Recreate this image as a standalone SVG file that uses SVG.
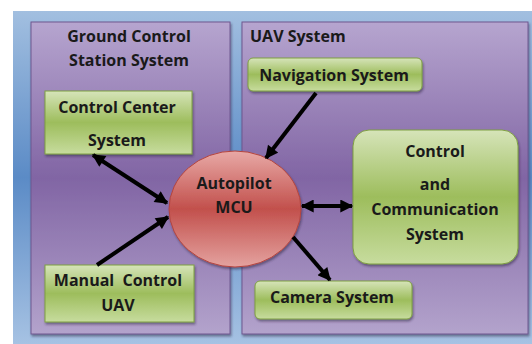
<svg xmlns="http://www.w3.org/2000/svg" width="532" height="344" viewBox="0 0 532 344">
  <defs>
    <linearGradient id="gBlue" x1="0" y1="0" x2="0" y2="1">
      <stop offset="0" stop-color="#a2bfe0"/>
      <stop offset="0.5" stop-color="#5b8bc6"/>
      <stop offset="1" stop-color="#a6c2e3"/>
    </linearGradient>
    <linearGradient id="gPurple" x1="0" y1="0" x2="0" y2="1">
      <stop offset="0" stop-color="#b6a5cf"/>
      <stop offset="0.5" stop-color="#8165a4"/>
      <stop offset="1" stop-color="#b3a3cc"/>
    </linearGradient>
    <linearGradient id="gGreen" x1="0" y1="0" x2="0" y2="1">
      <stop offset="0" stop-color="#d6e4b9"/>
      <stop offset="0.5" stop-color="#9dbd5c"/>
      <stop offset="1" stop-color="#c7dc9e"/>
    </linearGradient>
    <linearGradient id="gRed" x1="0" y1="0" x2="0" y2="1">
      <stop offset="0" stop-color="#e8a9a6"/>
      <stop offset="0.5" stop-color="#c2504c"/>
      <stop offset="1" stop-color="#e4a29f"/>
    </linearGradient>
    <marker id="arrow" viewBox="0 0 10 10" refX="9" refY="5" markerWidth="15" markerHeight="13" markerUnits="userSpaceOnUse" orient="auto-start-reverse">
      <path d="M0,0 L10,5 L0,10 z" fill="#000"/>
    </marker>
    <filter id="shadow" x="-10%" y="-10%" width="125%" height="130%">
      <feDropShadow dx="1" dy="2" stdDeviation="1" flood-color="#2a1e3a" flood-opacity="0.5"/>
    </filter>
  </defs>
  <style>
    .panel { fill: url(#gPurple); stroke: #6f5890; stroke-width: 1; filter: url(#shadow); }
    .box { fill: url(#gGreen); stroke: #7f9f42; stroke-width: 1; filter: url(#shadow); }
    .hub { fill: url(#gRed); stroke: #b3443f; stroke-width: 1; filter: url(#shadow); }
    .lbl { font-family: "Open Sans", "Liberation Sans", sans-serif; font-weight: bold; font-size: 16px; fill: #1a1a1a; text-anchor: middle; }
    .wire { stroke: #000; stroke-width: 4; fill: none; }
  </style>

  <!-- background -->
  <rect x="13" y="11" width="519" height="333" fill="url(#gBlue)"/>

  <!-- ground control station panel -->
  <g id="ground-station">
    <rect class="panel" x="31" y="22" width="199" height="312"/>
    <text class="lbl" x="129" y="42">Ground Control</text>
    <text class="lbl" x="129" y="66">Station System</text>
  </g>

  <!-- UAV panel -->
  <g id="uav-system">
    <rect class="panel" x="242" y="22" width="286" height="312"/>
    <text class="lbl" x="250" y="42" style="text-anchor:start">UAV System</text>
  </g>

  <g id="control-center">
    <rect class="box" x="45" y="91" width="147" height="63"/>
    <text class="lbl" x="117" y="113">Control Center</text>
    <text class="lbl" x="117" y="146">System</text>
  </g>

  <g id="manual-control">
    <rect class="box" x="45" y="265" width="149" height="57"/>
    <text class="lbl" x="118" y="286" xml:space="preserve">Manual  Control</text>
    <text class="lbl" x="118" y="311">UAV</text>
  </g>

  <g id="navigation">
    <rect class="box" x="248" y="58" width="174" height="33" rx="5"/>
    <text class="lbl" x="334" y="81">Navigation System</text>
  </g>

  <g id="comm-system">
    <rect class="box" x="353" y="130" width="165" height="134" rx="16"/>
    <text class="lbl" x="435" y="157">Control</text>
    <text class="lbl" x="435" y="190">and</text>
    <text class="lbl" x="435" y="215">Communication</text>
    <text class="lbl" x="435" y="240">System</text>
  </g>

  <g id="camera">
    <rect class="box" x="255" y="281" width="157" height="38" rx="5"/>
    <text class="lbl" x="332" y="303">Camera System</text>
  </g>

  <g id="autopilot">
    <ellipse class="hub" cx="235" cy="209" rx="66" ry="58"/>
    <text class="lbl" x="234" y="189">Autopilot</text>
    <text class="lbl" x="234" y="213">MCU</text>
  </g>

  <!-- connectors -->
  <g id="connectors">
    <line class="wire" x1="93" y1="155" x2="167" y2="203" marker-start="url(#arrow)" marker-end="url(#arrow)"/>
    <line class="wire" x1="97" y1="265" x2="168" y2="217" marker-end="url(#arrow)"/>
    <line class="wire" x1="316" y1="93" x2="266" y2="158" marker-end="url(#arrow)"/>
    <line class="wire" x1="302" y1="206" x2="352" y2="206" marker-start="url(#arrow)" marker-end="url(#arrow)"/>
    <line class="wire" x1="293" y1="237" x2="330" y2="280" marker-end="url(#arrow)"/>
  </g>
</svg>
